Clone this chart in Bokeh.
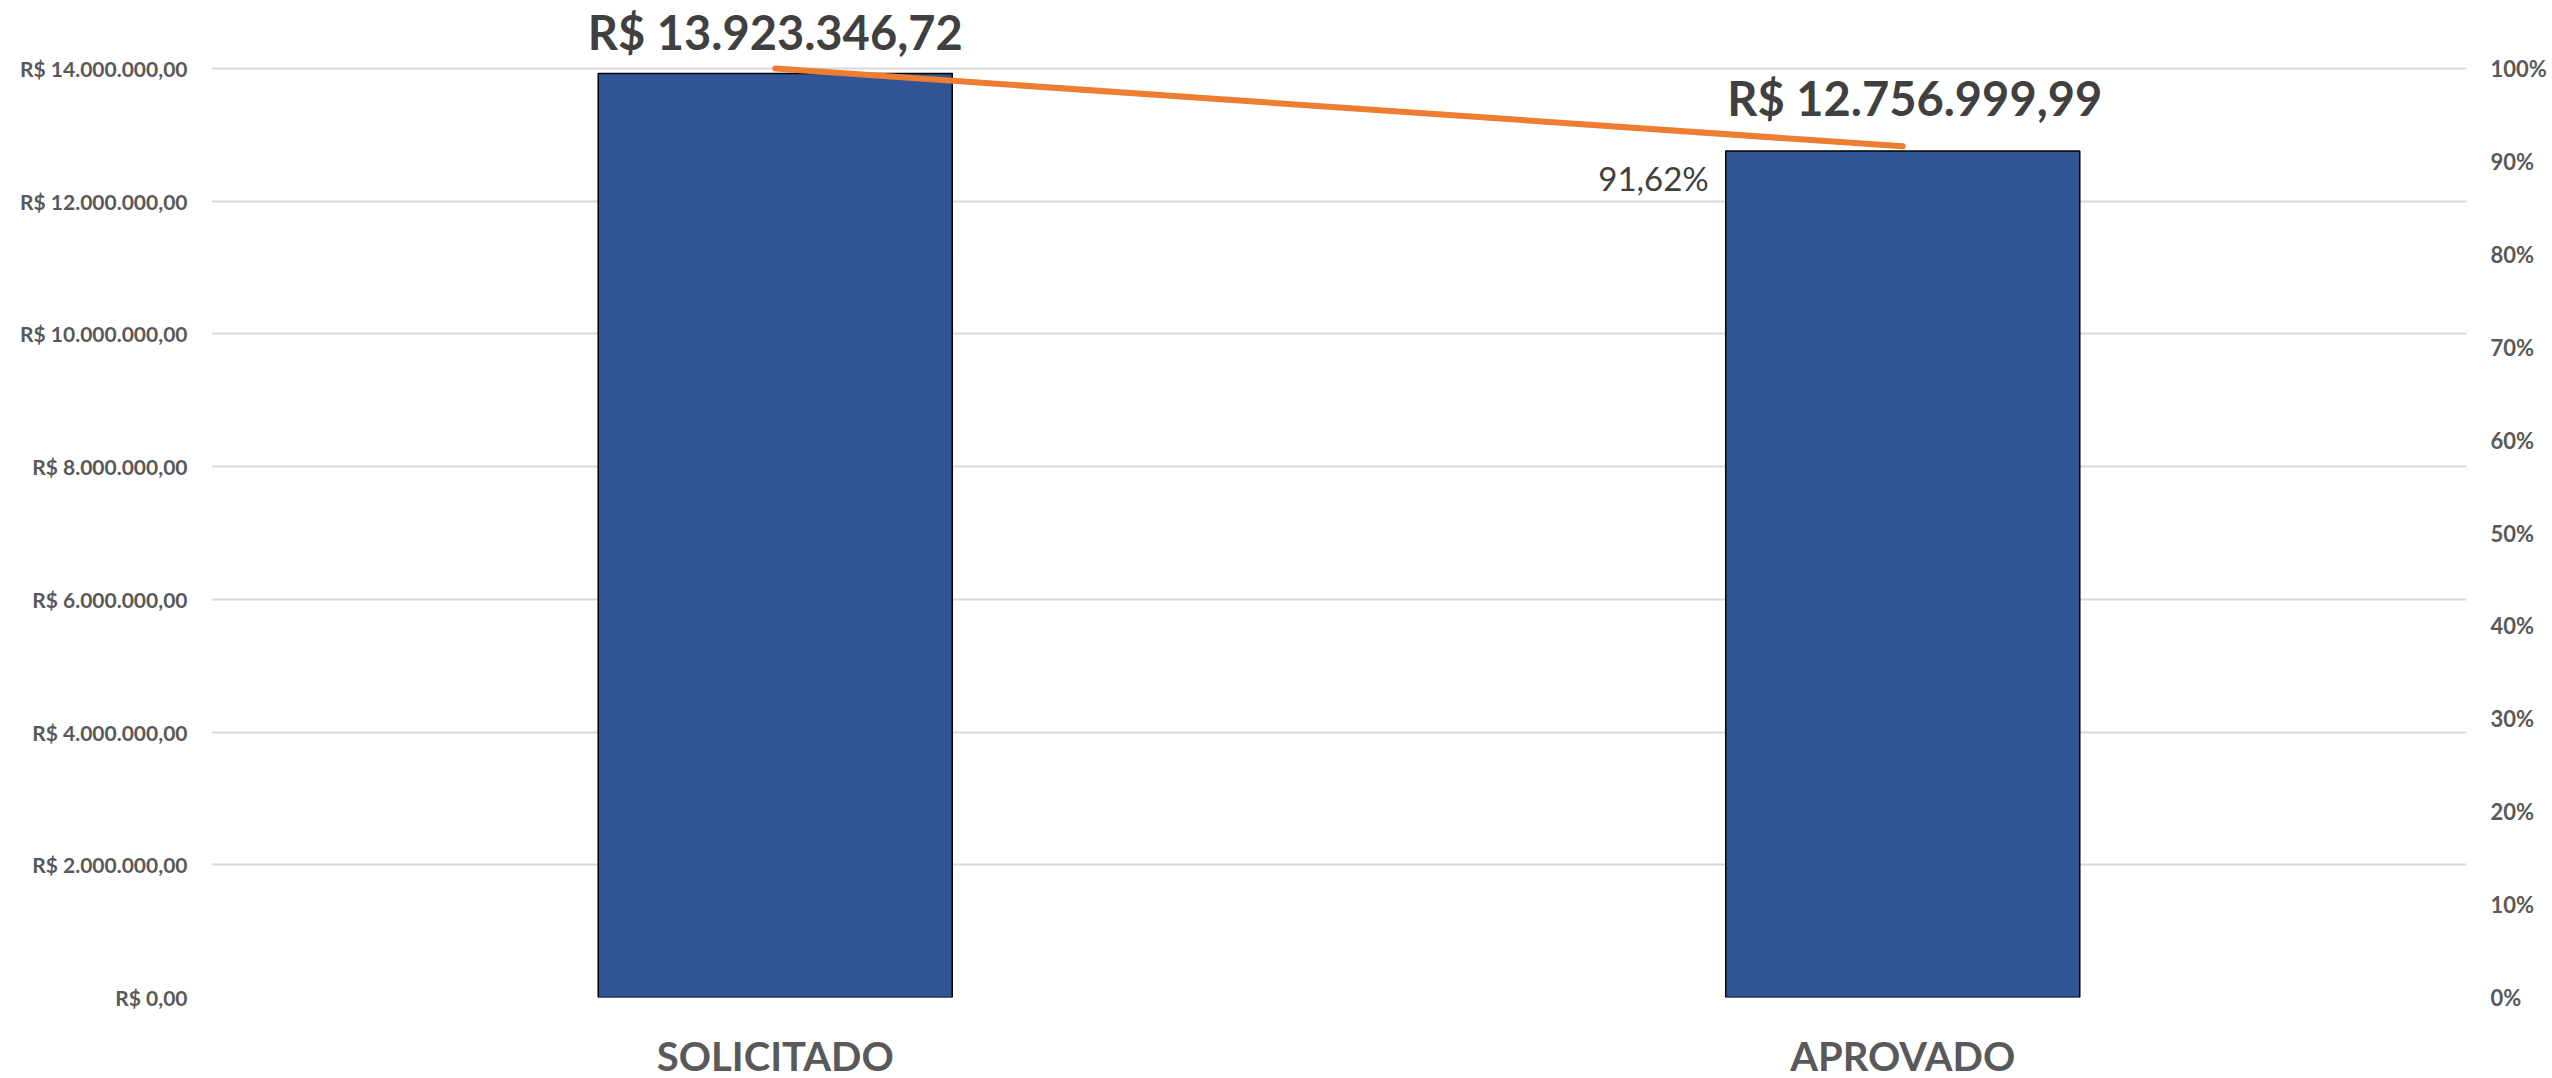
from bokeh.plotting import figure
from bokeh.models import Range1d, LinearAxis, FixedTicker, ColumnDataSource, FactorRange
from bokeh.core.properties import value
from bokeh.embed import file_html
from bokeh.resources import INLINE

# ---- data ----
categories = ["SOLICITADO", "APROVADO"]
amounts = [13923346.72, 12756999.99]
amount_labels = ["R$ 13.923.346,72", "R$ 12.756.999,99"]
pct_values = [100.0, 91.62]
pct_label = ["91,62%"]
left_ticks = [0, 2000000, 4000000, 6000000, 8000000, 10000000, 12000000, 14000000]
left_tick_labels = ["R$ 0,00", "R$ 2.000.000,00", "R$ 4.000.000,00", "R$ 6.000.000,00",
                    "R$ 8.000.000,00", "R$ 10.000.000,00", "R$ 12.000.000,00", "R$ 14.000.000,00"]
right_ticks = [0, 10, 20, 30, 40, 50, 60, 70, 80, 90, 100]
right_tick_labels = ["0%", "10%", "20%", "30%", "40%", "50%", "60%", "70%", "80%", "90%", "100%"]

# ---- styling / layout ----
FONT = "Lato"
AXIS_COLOR = "#595959"
LABEL_COLOR = "#404040"
BAR_COLOR = "#2F5597"
LINE_COLOR = "#ED7D31"
GRID_COLOR = "#D9D9D9"

AXIS_PX = 929          # pixels from 0 to the 14M / 100% gridline
HEADROOM_PX = 68       # room above the top gridline for the value labels
FRAME_H = AXIS_PX + HEADROOM_PX
top_factor = FRAME_H / AXIS_PX

p = figure(
    x_range=FactorRange(*categories),
    y_range=Range1d(0, left_ticks[-1] * top_factor),
    frame_width=2255, frame_height=FRAME_H,
    output_backend="svg", toolbar_location=None,
    min_border_left=211, min_border_right=84,
    min_border_top=0, min_border_bottom=40,
)
p.outline_line_color = None
p.background_fill_color = "white"
p.border_fill_color = "white"

# bars
bar_src = ColumnDataSource(dict(cat=categories, amt=amounts))
p.vbar(x="cat", top="amt", width=0.314, source=bar_src,
       fill_color=BAR_COLOR, line_color="black", line_width=1.5)

# percentage line on secondary axis
p.extra_y_ranges = {"pct": Range1d(0, right_ticks[-1] * top_factor)}
p.line(x=categories, y=pct_values, y_range_name="pct",
       line_color=LINE_COLOR, line_width=6, line_cap="round")

# value labels
lab_src = ColumnDataSource(dict(cat=categories, amt=amounts, txt=amount_labels,
                                xo=[0, 12], yo=[-42, -53]))
p.text(x="cat", y="amt", text="txt", x_offset="xo", y_offset="yo", source=lab_src,
       text_align="center", text_baseline="alphabetic",
       text_font=value(FONT), text_font_style="bold", text_font_size="47px",
       text_color=LABEL_COLOR)

# percentage label
p.text(x=[categories[1]], y=[pct_values[1]], text=pct_label, y_range_name="pct",
       x_offset=-194, y_offset=32, text_align="right", text_baseline="alphabetic",
       text_font=value(FONT), text_font_size="33px", text_color=LABEL_COLOR)

# left axis
ya = p.yaxis[0]
ya.ticker = FixedTicker(ticks=left_ticks)
ya.major_label_overrides = dict(zip(left_ticks, left_tick_labels))
ya.axis_line_color = None
ya.major_tick_line_color = None
ya.minor_tick_line_color = None
ya.major_tick_out = 0
ya.major_label_standoff = 24
ya.major_label_text_font = FONT
ya.major_label_text_font_style = "bold"
ya.major_label_text_font_size = "21px"
ya.major_label_text_color = AXIS_COLOR

# right axis
ra = LinearAxis(y_range_name="pct", ticker=FixedTicker(ticks=right_ticks))
ra.major_label_overrides = dict(zip(right_ticks, right_tick_labels))
ra.axis_line_color = None
ra.major_tick_line_color = None
ra.minor_tick_line_color = None
ra.major_tick_out = 0
ra.major_label_standoff = 24
ra.major_label_text_font = FONT
ra.major_label_text_font_style = "bold"
ra.major_label_text_font_size = "22px"
ra.major_label_text_color = AXIS_COLOR
p.add_layout(ra, "right")

# bottom axis
xa = p.xaxis[0]
xa.axis_line_color = None
xa.major_tick_line_color = None
xa.minor_tick_line_color = None
xa.major_tick_out = 0
xa.major_label_standoff = 34
xa.major_label_text_font = FONT
xa.major_label_text_font_style = "bold"
xa.major_label_text_font_size = "40px"
xa.major_label_text_color = AXIS_COLOR

# grid
p.xgrid.grid_line_color = None
p.ygrid.grid_line_color = GRID_COLOR
p.ygrid.grid_line_width = 2

open("out.html", "w").write(file_html(p, INLINE))
